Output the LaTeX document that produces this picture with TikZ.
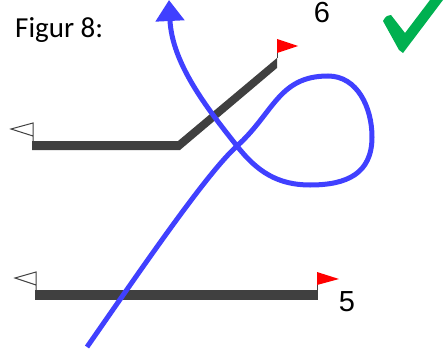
\documentclass[tikz,border=0pt]{standalone}
\usepackage{fontspec}
\setmainfont{Carlito}
\newfontfamily\digitfont{Liberation Sans}
\usetikzlibrary{arrows.meta}
\definecolor{trailblue}{RGB}{64,64,255}
\definecolor{flagred}{RGB}{255,0,0}
\definecolor{okgreen}{RGB}{0,176,80}
\definecolor{trackgray}{RGB}{64,64,64}

\begin{document}
\begin{tikzpicture}[x=1pt,y=1pt,>={Triangle[length=21pt,width=28pt]},
  track/.style={fill=trackgray},
  pole/.style={draw=trackgray,line width=1pt},
  trail/.style={draw=trailblue,line width=5pt},
  label/.style={inner sep=0pt,font=\fontsize{29}{33}\selectfont},
  digit/.style={label,text height=21pt,text depth=0pt,font=\digitfont\fontsize{29}{33}\selectfont}]
  \useasboundingbox (0,0) rectangle (444,349);
  % tracks
  \fill[track] (32,208) -- (178,208) -- (277,291) -- (277,281) -- (180,199) -- (32,199) -- cycle;
  \fill[track] (35,49) rectangle (318,59);
  % flags
  \draw[pole,fill=white] (33,208) -- (33,226) -- (11,220) -- (33,213);
  \draw[pole,fill=white] (36,59) -- (36,77) -- (15,71) -- (36,64);
  \draw[pole] (277,291) -- (277,310);
  \fill[flagred] (277,310) -- (298,303) -- (277,296) -- cycle;
  \draw[pole] (317,59) -- (317,77);
  \fill[flagred] (317,77) -- (339,70) -- (317,64) -- cycle;
  % the figure eight
  \coordinate (start) at (87,2);
  \coordinate (cross) at (237,203);
  \coordinate (looptop) at (328,273);
  \coordinate (loopright) at (372,212);
  \coordinate (loopbottom) at (310,164);
  \coordinate (tip) at (169,349);
  \draw[trail,->] (start) .. controls (144,84) and (207,176) .. (cross)
    to[out=42,in=180,looseness=1.1] (looptop)
    to[out=0,in=90] (loopright)
    to[out=-90,in=0,looseness=1.2] (loopbottom)
    to[out=180,in=-52] (cross)
    .. controls (206,242) and (172,286) .. (tip);
  % texts
  \node[label,anchor=base west] (title) at (15,312) {Figur 8:};
  \node[digit,anchor=base] (six) at (322,326) {6};
  \node[digit,anchor=base] (five) at (347,38) {5};
  % check mark
  \fill[okgreen] (383,328) .. controls (386,333) .. (391,334) -- (405,316)
    -- (430,349) -- (443,349) -- (403,296) -- (399,299) -- cycle;
\end{tikzpicture}
\end{document}
